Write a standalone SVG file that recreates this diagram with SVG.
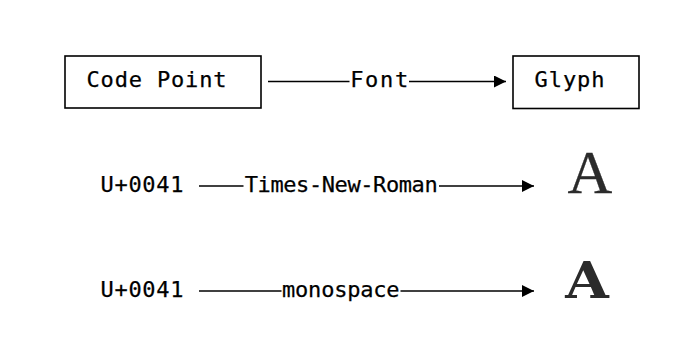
<svg xmlns="http://www.w3.org/2000/svg" width="689" height="347" viewBox="0 0 689 347">
  <style>
    .bg { fill: #ffffff; }
    .box { fill: #ffffff; stroke: #000000; stroke-width: 1.6; }
    .mono { font-family: "DejaVu Sans Mono", "Liberation Mono", monospace; font-size: 22px; fill: #000000; stroke: #000000; stroke-width: 0.25; text-anchor: middle; }
    .edge { stroke: #000000; stroke-width: 1.6; fill: none; }
    .serifA { font-family: "Liberation Serif", "Times New Roman", serif; font-size: 62px; fill: #2b2b2b; stroke: #2b2b2b; stroke-width: 0.3; text-anchor: middle; }
    .monoA { font-family: "DejaVu Serif", serif; font-size: 51px; font-weight: bold; fill: #2b2b2b; text-anchor: middle; }
  </style>
  <defs>
    <marker id="arrow" markerUnits="userSpaceOnUse" markerWidth="13" markerHeight="13" refX="12" refY="6" orient="auto">
      <path d="M0,0 L12,6 L0,12 Z" fill="#000000"/>
    </marker>
  </defs>
  <rect class="bg" x="0" y="0" width="689" height="347"/>

  <g id="node-code-point">
    <rect class="box" x="65" y="56" width="196" height="52"/>
    <text class="mono" x="156.5" y="87" textLength="140" lengthAdjust="spacing">Code Point</text>
  </g>
  <g id="node-glyph">
    <rect class="box" x="513" y="56" width="126" height="52.5"/>
    <text class="mono" x="569.5" y="87" textLength="70" lengthAdjust="spacing">Glyph</text>
  </g>
  <g id="node-u0041-a">
    <text class="mono" x="142" y="192" textLength="83" lengthAdjust="spacing">U+0041</text>
  </g>
  <g id="node-glyph-times">
    <text class="serifA" x="590" y="193">A</text>
  </g>
  <g id="node-u0041-b">
    <text class="mono" x="142" y="297" textLength="83" lengthAdjust="spacing">U+0041</text>
  </g>
  <g id="node-glyph-mono">
    <text class="monoA" x="587" y="298" transform="translate(587 0) scale(1.1 1) translate(-587 0)">A</text>
  </g>

  <g id="connectors">
    <line class="edge" x1="268" y1="81.5" x2="349.5" y2="81.5"/>
    <line class="edge" x1="409" y1="81.5" x2="506" y2="81.5" marker-end="url(#arrow)"/>
    <text class="mono" x="379.2" y="87" textLength="58" lengthAdjust="spacing">Font</text>

    <line class="edge" x1="199" y1="186" x2="243.5" y2="186"/>
    <line class="edge" x1="439" y1="186" x2="534" y2="186" marker-end="url(#arrow)"/>
    <text class="mono" x="341.2" y="192" textLength="193" lengthAdjust="spacing">Times-New-Roman</text>

    <line class="edge" x1="199" y1="291" x2="281.5" y2="291"/>
    <line class="edge" x1="400.5" y1="291" x2="534" y2="291" marker-end="url(#arrow)"/>
    <text class="mono" x="340.8" y="297" textLength="117.5" lengthAdjust="spacing">monospace</text>
  </g>
</svg>
